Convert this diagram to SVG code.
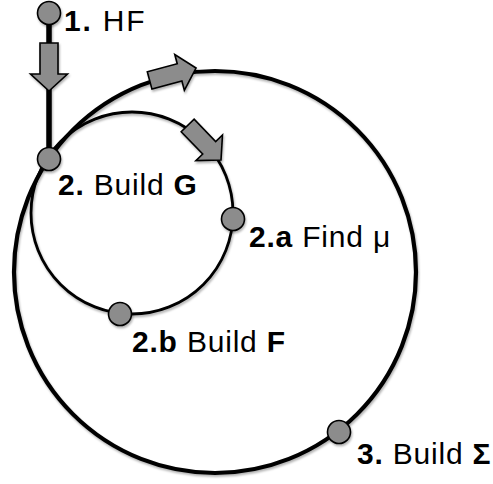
<svg xmlns="http://www.w3.org/2000/svg" width="493" height="484" viewBox="0 0 493 484">
<defs>
<filter id="sh" x="-20%" y="-20%" width="140%" height="140%"><feDropShadow dx="1" dy="2" stdDeviation="1.2" flood-color="#000" flood-opacity="0.3"/></filter>
<path id="arr" d="M0,0 L-17,-18.5 L-17,-9 L-48,-9 L-48,9 L-17,9 L-17,18.5 Z"/>
</defs>
<style>
.ring{fill:none;stroke:#000}
.node{fill:#8c8c8c;stroke:#000;stroke-width:1.6}
.ar{fill:#8c8c8c;stroke:#000;stroke-width:1.6;stroke-linejoin:miter}
text{font-family:"Liberation Sans",Arial,sans-serif;font-size:30px;letter-spacing:0.8px;fill:#000}
.b{font-weight:bold}
</style>
<g id="connectors" filter="url(#sh)">
<circle class="ring" cx="215" cy="272" r="201" stroke-width="4.2"/>
<circle class="ring" cx="132" cy="213" r="101" stroke-width="2.8"/>
<line x1="49" y1="13" x2="49" y2="159" stroke="#000" stroke-width="5.5"/>
<use href="#arr" class="ar" transform="translate(49,91) rotate(90)"/>
<use href="#arr" class="ar" transform="translate(196,68) rotate(-15)"/>
<use href="#arr" class="ar" transform="translate(221,160) rotate(46)"/>
</g>
<g id="n1"><circle class="node" cx="49" cy="13" r="11.5" filter="url(#sh)"/><text x="64" y="31" style="letter-spacing:1.8px"><tspan class="b">1.</tspan> HF</text></g>
<g id="n2"><circle class="node" cx="49" cy="159" r="11.5" filter="url(#sh)"/><text x="58" y="195"><tspan class="b">2.</tspan> Build <tspan class="b">G</tspan></text></g>
<g id="n2a"><circle class="node" cx="233" cy="219" r="11.5" filter="url(#sh)"/><text x="249" y="247"><tspan class="b">2.a</tspan> Find μ</text></g>
<g id="n2b"><circle class="node" cx="120" cy="314" r="11.5" filter="url(#sh)"/><text x="132" y="352"><tspan class="b">2.b</tspan> Build <tspan class="b">F</tspan></text></g>
<g id="n3"><circle class="node" cx="339" cy="432" r="11.5" filter="url(#sh)"/><text x="357" y="464"><tspan class="b">3.</tspan> Build <tspan class="b">Σ</tspan></text></g>
</svg>
